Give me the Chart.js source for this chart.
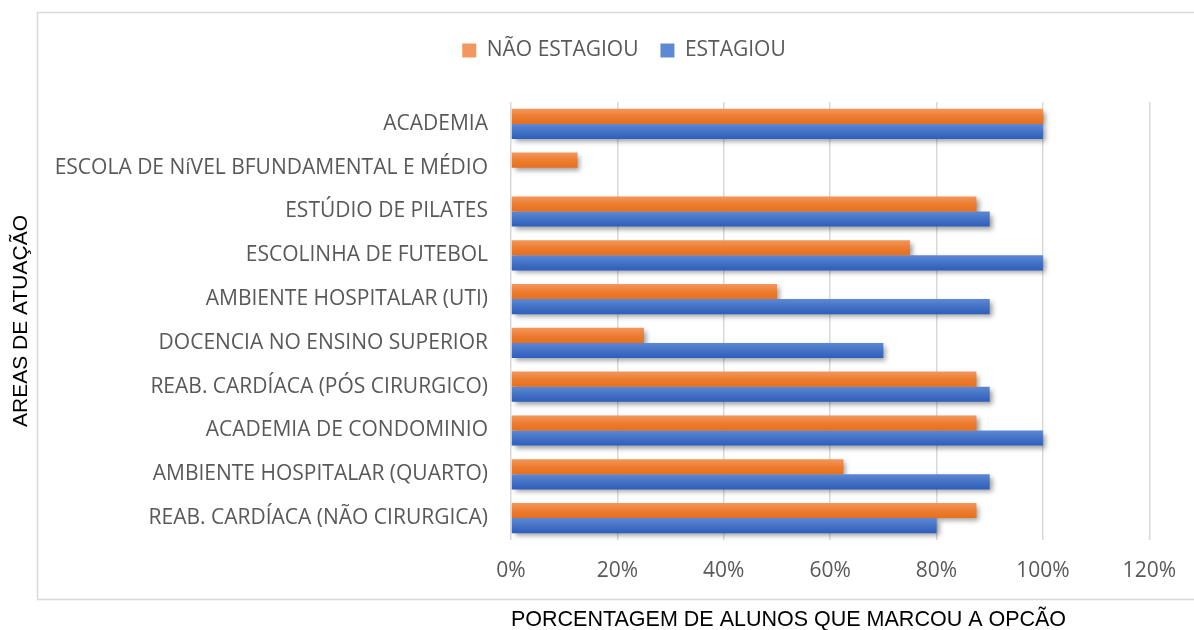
<!DOCTYPE html>
<html><head><meta charset="utf-8">
<script src="https://cdn.jsdelivr.net/npm/chart.js@4"></script>
<style>html,body{margin:0;padding:0;background:#fff;}</style>
</head><body>
<canvas id="c" width="1194" height="630"></canvas>
<script>
const categories = [
  'ACADEMIA',
  'ESCOLA DE NíVEL BFUNDAMENTAL E MÉDIO',
  'ESTÚDIO DE PILATES',
  'ESCOLINHA DE FUTEBOL',
  'AMBIENTE HOSPITALAR (UTI)',
  'DOCENCIA NO ENSINO SUPERIOR',
  'REAB. CARDÍACA (PÓS CIRURGICO)',
  'ACADEMIA DE CONDOMINIO',
  'AMBIENTE HOSPITALAR (QUARTO)',
  'REAB. CARDÍACA (NÃO CIRURGICA)'
];
const naoEstagiou = [100, 12.5, 87.5, 75, 50, 25, 87.5, 87.5, 62.5, 87.5];
const estagiou = [100, 0, 90, 100, 90, 70, 90, 100, 90, 80];
const xTickLabels = ['0%', '20%', '40%', '60%', '80%', '100%', '120%'];
const seriesNames = ['NÃO ESTAGIOU', 'ESTAGIOU'];

const CAT_PCT = 0.69;
const orangeStops = ['#F3975E', '#ED7D31', '#E66F1C'];
const blueStops = ['#5C88D6', '#4472C4', '#2E5EBE'];

function gradFill(stops, which) {
  return function (ctx) {
    const chart = ctx.chart;
    if (ctx.type !== 'data' || !chart.chartArea || !chart.scales.y) return stops[1];
    const ys = chart.scales.y;
    const c = ys.getPixelForValue(ctx.dataIndex);
    const band = (ys.bottom - ys.top) / categories.length;
    const w = band * CAT_PCT / 2;
    const top = which === 0 ? c - w : c;
    const g = chart.ctx.createLinearGradient(0, top, 0, top + w);
    g.addColorStop(0, stops[0]);
    g.addColorStop(0.5, stops[1]);
    g.addColorStop(1, stops[2]);
    return g;
  };
}

const frame = {
  id: 'frame',
  beforeDraw(chart) {
    const ctx = chart.ctx;
    ctx.save();
    ctx.fillStyle = '#fff';
    ctx.fillRect(0, 0, chart.width, chart.height);
    ctx.strokeStyle = '#D9D9D9';
    ctx.lineWidth = 1.5;
    ctx.strokeRect(37.5, 12.5, 1200, 587);
    ctx.restore();
  }
};

const legendShift = {
  id: 'legendShift',
  afterLayout(chart) {
    if (chart.legend) { chart.legend.left += 49; chart.legend.right += 49; }
  }
};

const shadows = {
  id: 'shadows',
  beforeDatasetsDraw(chart) {
    const ctx = chart.ctx;
    ctx.save();
    const off = 5000;
    ctx.shadowColor = 'rgba(0,0,0,0.38)';
    ctx.shadowBlur = 5;
    ctx.shadowOffsetX = 3 + off;
    ctx.shadowOffsetY = 3;
    ctx.fillStyle = '#000';
    chart.getSortedVisibleDatasetMetas().forEach(meta => {
      meta.data.forEach(el => {
        const p = el.getProps(['x', 'y', 'base', 'height'], true);
        const left = Math.min(p.base, p.x);
        const w = Math.abs(p.x - p.base);
        if (w < 1) return;
        ctx.fillRect(left - off, p.y - p.height / 2, w, p.height);
      });
    });
    ctx.restore();
  }
};

const labelFont = { family: "'Open Sans', 'Noto Sans', sans-serif", size: 21 };
const titleFont = { family: "'Liberation Sans', Arial, sans-serif", size: 21.5 };

new Chart(document.getElementById('c'), {
  type: 'bar',
  data: {
    labels: categories,
    datasets: [
      { label: seriesNames[0], data: naoEstagiou, backgroundColor: gradFill(orangeStops, 0), borderWidth: 0, barPercentage: 1, categoryPercentage: CAT_PCT },
      { label: seriesNames[1], data: estagiou, backgroundColor: gradFill(blueStops, 1), borderWidth: 0, barPercentage: 1, categoryPercentage: CAT_PCT }
    ]
  },
  options: {
    indexAxis: 'y',
    responsive: false,
    animation: false,
    layout: { padding: { top: 18, right: 44, bottom: 0, left: 0 } },
    plugins: {
      legend: {
        position: 'top',
        labels: { boxWidth: 14, boxHeight: 14, padding: 22, color: '#595959', font: labelFont }
      },
      tooltip: { enabled: false }
    },
    scales: {
      x: {
        min: 0, max: 120,
        ticks: { stepSize: 20, padding: 18, color: '#595959', font: labelFont, callback: (v, i) => xTickLabels[i] },
        grid: { color: '#D9D9D9', lineWidth: 1.5, drawTicks: false },
        border: { display: false },
        title: { display: true, align: 'start', text: 'PORCENTAGEM DE ALUNOS QUE MARCOU A OPCÃO', color: '#000', font: Object.assign({ lineHeight: 1 }, titleFont), padding: { top: 0, bottom: -1 } },
        afterFit(s) { s.height = 90; }
      },
      xTop: {
        type: 'linear', position: 'top', min: 0, max: 1, display: true,
        ticks: { display: false }, grid: { display: false }, border: { display: false },
        afterFit(s) { s.height = 31; }
      },
      y: {
        grid: { display: false },
        border: { display: false },
        ticks: { padding: 15, color: '#595959', font: labelFont },
        title: { display: true, text: 'AREAS DE ATUAÇÃO', color: '#000', font: { family: titleFont.family, size: 21 }, padding: { top: 9, bottom: 0 } },
        afterFit(s) { s.width = 511; }
      }
    }
  },
  plugins: [frame, legendShift, shadows]
});
</script>
</body></html>
